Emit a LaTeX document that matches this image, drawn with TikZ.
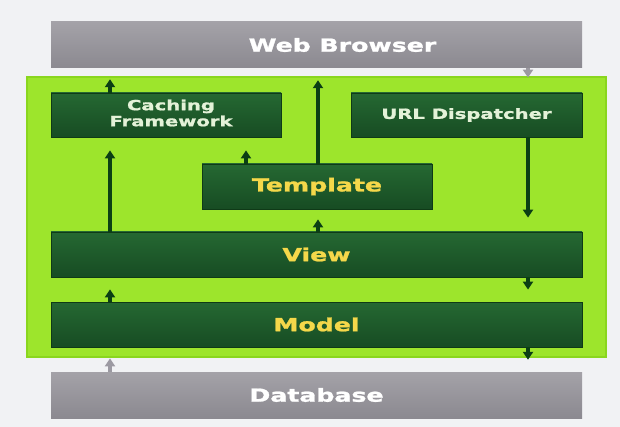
\documentclass[tikz,border=0pt]{standalone}
\usepackage{fontspec}
\setmainfont{DejaVu Sans}[BoldFeatures={FakeBold=1.2}]
\usetikzlibrary{arrows.meta,calc}

\definecolor{pagebg}{HTML}{F1F2F4}
\definecolor{lime}{HTML}{9DE52C}
\definecolor{limeedge}{HTML}{8AD61E}
\definecolor{darktop}{HTML}{256832}
\definecolor{darkbot}{HTML}{174C23}
\definecolor{darkedge}{HTML}{0F3A17}
\definecolor{graytop}{HTML}{A4A2A8}
\definecolor{graybot}{HTML}{8B8990}
\definecolor{arrowgreen}{HTML}{0B3F14}
\definecolor{arrowgray}{HTML}{9C9AA2}
\definecolor{labelyellow}{HTML}{F5D84A}
\definecolor{labelpale}{HTML}{E4F2D8}

% wide, heavy lettering
\newcommand{\widetext}[1]{\scalebox{1.4}[1.0]{#1}}

\tikzset{
  graybox/.style={draw=none, top color=graytop, bottom color=graybot,
    text=white, font=\bfseries\fontsize{18}{20}\selectfont, inner sep=0pt},
  darkbox/.style={draw=darkedge, line width=0.8pt, top color=darktop, bottom color=darkbot,
    inner sep=0pt, align=center},
  biglabel/.style={darkbox, text=labelyellow, font=\bfseries\fontsize{18}{20}\selectfont},
  smalllabel/.style={darkbox, text=labelpale, font=\bfseries\fontsize{14}{16}\selectfont},
  arr/.style={draw=arrowgreen, line width=3.5pt, -{Triangle[width=10pt,length=8pt]}},
  grayarr/.style={draw=arrowgray, line width=3.5pt, -{Triangle[width=10pt,length=8pt]}},
}

\begin{document}
\begin{tikzpicture}[x=1pt, y=-1pt]
  % page
  \fill[pagebg] (0,0) rectangle (620,427);
  \useasboundingbox (0,0) rectangle (620,427);

  % green framework panel
  \node (panel) [draw=limeedge, line width=1.5pt, fill=lime, minimum width=579pt,
    minimum height=280pt, inner sep=0pt] at (316.5,217) {};

  % outer tiers
  \node (browser) [graybox, minimum width=531pt, minimum height=46pt] at (316.5,45) {};
  \node [text=white, font=\bfseries\fontsize{18}{20}\selectfont, inner sep=0pt]
    at ([xshift=26pt]browser.center) {\widetext{Web Browser}};
  \node (db) [graybox, minimum width=531pt, minimum height=46pt] at (316.5,395)
    {\widetext{Database}};

  % components
  \node (cache) [smalllabel, minimum width=230pt, minimum height=44pt] at (166,115) {};
  \node [text=labelpale, font=\bfseries\fontsize{14}{16}\selectfont, inner sep=0pt]
    at ([xshift=5pt]cache.center)
    {\widetext{\begin{tabular}{@{}c@{}}Caching\\Framework\end{tabular}}};
  \node (url) [smalllabel, minimum width=231pt, minimum height=44pt] at (466.5,115)
    {\widetext{URL Dispatcher}};
  \node (tmpl) [biglabel, minimum width=230pt, minimum height=45pt] at (317,186.5)
    {\widetext{Template}};
  \node (view) [biglabel, minimum width=531pt, minimum height=45pt] at (316.5,254.5)
    {\widetext{View}};
  \node (model) [biglabel, minimum width=531pt, minimum height=45pt] at (316.5,324.5)
    {\widetext{Model}};

  % connector columns
  \coordinate (colA) at (110,0);
  \coordinate (colB) at (246,0);
  \coordinate (colC) at (318,0);
  \coordinate (colD) at (528,0);

  % upward flow (left side)
  \draw[arr, shorten >=11pt] (cache.north -| colA) -- (browser.south -| colA);
  \draw[arr, shorten >=12pt] (tmpl.north -| colC) -- (browser.south -| colC);
  \draw[arr, shorten >=13pt] (tmpl.north -| colB) -- (cache.south -| colB);
  \draw[arr, shorten >=13pt] (view.north -| colA) -- (cache.south -| colA);
  \draw[arr, shorten >=10pt] (view.north -| colC) -- (tmpl.south -| colC);
  \draw[arr, shorten >=12pt] (model.north -| colA) -- (view.south -| colA);
  \draw[grayarr, shorten >=11pt] (db.north -| colA) -- (model.south -| colA);

  % downward flow (right side)
  \draw[grayarr, shorten >=15pt] (browser.south -| colD) -- (url.north -| colD);
  \draw[arr, shorten >=14pt] (url.south -| colD) -- (view.north -| colD);
  \draw[arr, shorten >=12pt] (view.south -| colD) -- (model.north -| colD);
  \draw[arr, shorten >=12pt] (model.south -| colD) -- (db.north -| colD);
\end{tikzpicture}
\end{document}
